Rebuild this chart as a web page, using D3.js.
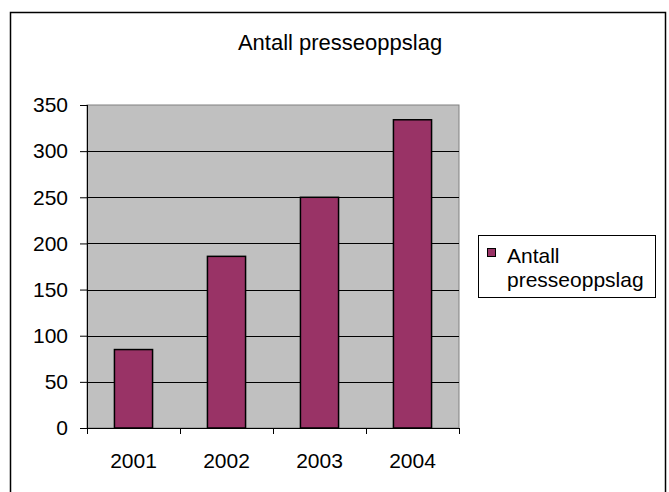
<!DOCTYPE html>
<html><head><meta charset="utf-8">
<script src="https://cdn.jsdelivr.net/npm/d3@7"></script>
<style>body{margin:0;background:#fff}svg{display:block;font-family:Arial,"Liberation Sans",sans-serif}</style>
</head><body><svg id="c" width="669" height="492"></svg>
<script>
const categories = ["2001","2002","2003","2004"];
const values = [85, 186, 250, 334];
const yTicks = [0,50,100,150,200,250,300,350];
const title = "Antall presseoppslag";
const seriesName = ["Antall","presseoppslag"];

const FONT = "Arial,'Liberation Sans',sans-serif";
const svg = d3.select("#c");
svg.append("rect").attr("x",10.5).attr("y",12.5).attr("width",655).attr("height",490)
  .attr("fill","#fff").attr("stroke","#000").attr("stroke-width",1.5);

const L=87,R=459,T=105,B=428;
const x = d3.scaleBand().domain(categories).range([L,R]).paddingInner(0.59).paddingOuter(0.295);
const xb = d3.scaleBand().domain(categories).range([L,R]);
const y = d3.scaleLinear().domain([0,350]).range([B,T]);

svg.append("rect").attr("x",L).attr("y",T).attr("width",R-L).attr("height",B-T)
  .attr("fill","#c0c0c0").attr("stroke","#808080").attr("stroke-width",1);

svg.append("g").selectAll("line").data(yTicks.slice(1,-1)).join("line")
  .attr("x1",L).attr("x2",R).attr("y1",d=>Math.round(y(d))+0.5).attr("y2",d=>Math.round(y(d))+0.5)
  .attr("stroke","#000").attr("stroke-width",1);

svg.append("g").selectAll("rect").data(values).join("rect")
  .attr("x",(d,i)=>x(categories[i])).attr("width",x.bandwidth())
  .attr("y",d=>y(d)).attr("height",d=>B-y(d))
  .attr("fill","#993366").attr("stroke","#000").attr("stroke-width",1.5);

const ya = d3.axisLeft(y).tickValues(yTicks).tickSize(7).tickPadding(12).tickFormat(d3.format("d"));
const gy = svg.append("g").attr("transform",`translate(${L},0)`).call(ya);
gy.select(".domain").attr("stroke","#000").attr("d",`M0.5,${T}V${B}`);
gy.selectAll("text").attr("font-size",21).attr("fill","#000").attr("font-family",FONT);
gy.selectAll(".tick line").attr("stroke","#000");

svg.append("line").attr("x1",L).attr("x2",R).attr("y1",B+0.5).attr("y2",B+0.5).attr("stroke","#000");
const bounds = categories.map(c=>xb(c)).concat([R]);
svg.append("g").selectAll("line").data(bounds).join("line")
  .attr("x1",d=>Math.round(d)+0.5).attr("x2",d=>Math.round(d)+0.5).attr("y1",B).attr("y2",B+6).attr("stroke","#000");
svg.append("g").selectAll("text").data(categories).join("text")
  .attr("x",d=>xb(d)+xb.bandwidth()/2).attr("y",468).attr("text-anchor","middle")
  .attr("font-size",21).text(d=>d);

svg.append("text").attr("x",340).attr("y",50).attr("text-anchor","middle").attr("font-size",22).text(title);

svg.append("rect").attr("x",478.5).attr("y",235.5).attr("width",177).attr("height",62)
  .attr("fill","#fff").attr("stroke","#000").attr("stroke-width",1);
svg.append("rect").attr("x",487.5).attr("y",248.5).attr("width",8).attr("height",8)
  .attr("fill","#993366").attr("stroke","#000").attr("stroke-width",1);
svg.append("g").selectAll("text").data(seriesName).join("text")
  .attr("x",507).attr("y",(d,i)=>263+i*23.5).attr("font-size",21).text(d=>d);
</script></body></html>
